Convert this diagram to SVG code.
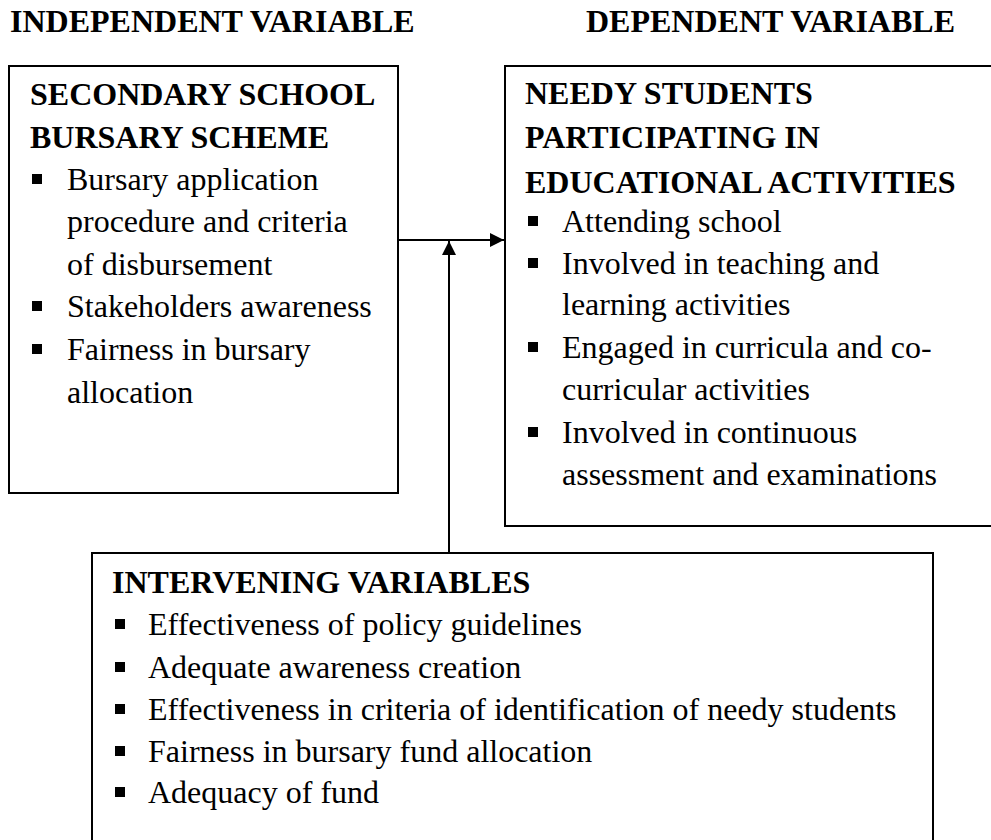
<svg xmlns="http://www.w3.org/2000/svg" width="991" height="840" viewBox="0 0 991 840">
  <style>
    .box { fill: #ffffff; stroke: #000000; stroke-width: 2; }
    .head { font-family: "Liberation Serif", "Times New Roman", serif; font-size: 32px; font-weight: bold; fill: #000000; }
    .item { font-family: "Liberation Serif", "Times New Roman", serif; font-size: 32px; fill: #000000; }
    .bullet { fill: #000000; }
    .link { fill: none; stroke: #000000; stroke-width: 2; }
  </style>
  <defs>
    <marker id="arrow" viewBox="0 0 14 14" refX="14" refY="7" markerWidth="14" markerHeight="14" markerUnits="userSpaceOnUse" orient="auto">
      <path d="M0,0 L14,7 L0,14 Z" fill="#000000"/>
    </marker>
  </defs>
  <rect width="991" height="840" fill="#ffffff"/>

  <!-- column headings -->
  <text class="head" x="10" y="32">INDEPENDENT VARIABLE</text>
  <text class="head" x="586" y="32">DEPENDENT VARIABLE</text>

  <!-- independent variable -->
  <g id="bursary-scheme">
    <rect class="box" x="9" y="66" width="389" height="427"/>
    <text class="head" x="30" y="105">SECONDARY SCHOOL</text>
    <text class="head" x="30" y="148">BURSARY SCHEME</text>
    <rect class="bullet" x="32" y="174" width="10" height="10"/>
    <text class="item" x="67" y="190">Bursary application</text>
    <text class="item" x="67" y="232">procedure and criteria</text>
    <text class="item" x="67" y="275">of disbursement</text>
    <rect class="bullet" x="32" y="301" width="10" height="10"/>
    <text class="item" x="67" y="317">Stakeholders awareness</text>
    <rect class="bullet" x="32" y="344" width="10" height="10"/>
    <text class="item" x="67" y="360">Fairness in bursary</text>
    <text class="item" x="67" y="403">allocation</text>
  </g>

  <!-- dependent variable -->
  <g id="needy-students">
    <rect class="box" x="505" y="66" width="492" height="460"/>
    <text class="head" x="525" y="104">NEEDY STUDENTS</text>
    <text class="head" x="525" y="148">PARTICIPATING IN</text>
    <text class="head" x="525" y="193">EDUCATIONAL ACTIVITIES</text>
    <rect class="bullet" x="528" y="216" width="10" height="10"/>
    <text class="item" x="562" y="232">Attending school</text>
    <rect class="bullet" x="528" y="258" width="10" height="10"/>
    <text class="item" x="562" y="274">Involved in teaching and</text>
    <text class="item" x="562" y="315">learning activities</text>
    <rect class="bullet" x="528" y="342" width="10" height="10"/>
    <text class="item" x="562" y="358">Engaged in curricula and co-</text>
    <text class="item" x="562" y="400">curricular activities</text>
    <rect class="bullet" x="528" y="427" width="10" height="10"/>
    <text class="item" x="562" y="443">Involved in continuous</text>
    <text class="item" x="562" y="485">assessment and examinations</text>
  </g>

  <!-- intervening variables -->
  <g id="intervening">
    <rect class="box" x="92" y="553" width="841" height="300"/>
    <text class="head" x="112" y="593">INTERVENING VARIABLES</text>
    <rect class="bullet" x="115" y="619" width="10" height="10"/>
    <text class="item" x="148" y="635">Effectiveness of policy guidelines</text>
    <rect class="bullet" x="115" y="662" width="10" height="10"/>
    <text class="item" x="148" y="678">Adequate awareness creation</text>
    <rect class="bullet" x="115" y="704" width="10" height="10"/>
    <text class="item" x="148" y="720">Effectiveness in criteria of identification of needy students</text>
    <rect class="bullet" x="115" y="746" width="10" height="10"/>
    <text class="item" x="148" y="762">Fairness in bursary fund allocation</text>
    <rect class="bullet" x="115" y="787" width="10" height="10"/>
    <text class="item" x="148" y="803">Adequacy of fund</text>
  </g>

  <!-- connectors -->
  <g id="connectors">
    <line class="link" x1="398" y1="240" x2="504" y2="240" marker-end="url(#arrow)"/>
    <line class="link" x1="449" y1="553" x2="449" y2="241" marker-end="url(#arrow)"/>
  </g>
</svg>
